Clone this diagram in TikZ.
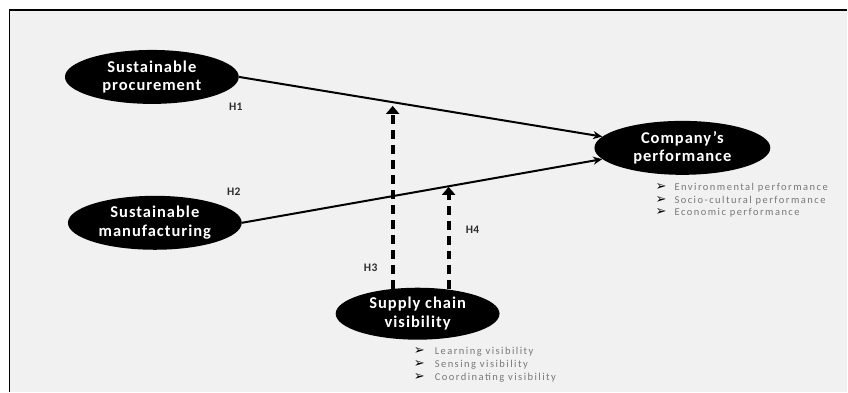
\documentclass[tikz,border=0pt]{standalone}
\usepackage{fontspec}
\setmainfont{Carlito}
\newfontfamily\symfont{DejaVu Sans}
\usetikzlibrary{shapes.geometric,arrows.meta}
\definecolor{bgc}{RGB}{241,241,241}
\definecolor{bulc}{RGB}{120,120,120}
\definecolor{hc}{RGB}{45,45,45}
\begin{document}
\begin{tikzpicture}[x=1pt,y=-1pt,
  construct/.style={ellipse, fill=black, inner sep=0pt, text=white,
    font=\fontsize{16.5}{18.5}\selectfont\bfseries\addfontfeatures{LetterSpace=6},
    align=center},
  hlab/.style={text=hc, inner sep=0pt, font=\fontsize{11.5}{12}\selectfont\bfseries\addfontfeatures{LetterSpace=4}},
  bullet/.style={anchor=base west, inner sep=0pt, text=bulc,
    font=\fontsize{10.5}{12}\selectfont\addfontfeatures{LetterSpace=14}},
  bmark/.style={anchor=base west, inner sep=0pt, font=\symfont\fontsize{13}{13}\selectfont},
  path/.style={line width=2pt, -{Stealth[length=9pt,width=8pt]}},
  moder/.style={line width=3.8pt, dash pattern=on 9pt off 6pt, -{Triangle[length=8pt,width=13pt]}}
]
\fill[white] (0,0) rectangle (848,392);
\fill[bgc] (9.5,10) rectangle (848,392);
\draw[line width=1.6pt] (9.5,392) -- (9.5,10) -- (848,10);
\useasboundingbox (0,0) rectangle (848,392);

\node[construct, minimum width=174pt, minimum height=54pt] (proc) at (152,77) {Sustainable\\procurement};
\node[construct, minimum width=174pt, minimum height=54pt] (manu) at (155,223) {Sustainable\\manufacturing};
\node[construct, minimum width=176pt, minimum height=54pt] (comp) at (683,148) {Company’s\\performance};
\node[construct, minimum width=164pt, minimum height=52pt] (scv) at (418,314) {Supply chain\\visibility};

\draw[path] (proc.east) -- (comp.172);
\draw[path] (manu.east) -- (comp.188);

\coordinate (t3) at (393,106);
\coordinate (t4) at (449,187);
\draw[moder] (scv.135) -- (scv.135 |- t3);
\draw[moder] (scv.38) -- (scv.38 |- t4);

\node[hlab] (h1) at (236,107) {H1};
\node[hlab] (h2) at (234,192) {H2};
\node[hlab] (h3) at (371,268) {H3};
\node[hlab] (h4) at (473,230) {H4};

\node[bmark] (cm1) at (656,191) {➢};
\node[bmark] (cm2) at (656,203.5) {➢};
\node[bmark] (cm3) at (656,216) {➢};
\node[bullet] (cb1) at (675,191) {Environmental performance};
\node[bullet] (cb2) at (675,203.5) {Socio-cultural performance};
\node[bullet] (cb3) at (675,216) {Economic performance};

\node[bmark] (sm1) at (414,355) {➢};
\node[bmark] (sm2) at (414,368) {➢};
\node[bmark] (sm3) at (414,381) {➢};
\node[bullet] (sb1) at (435,355) {Learning visibility};
\node[bullet] (sb2) at (435,368) {Sensing visibility};
\node[bullet] (sb3) at (435,381) {Coordinating visibility};
\end{tikzpicture}
\end{document}
